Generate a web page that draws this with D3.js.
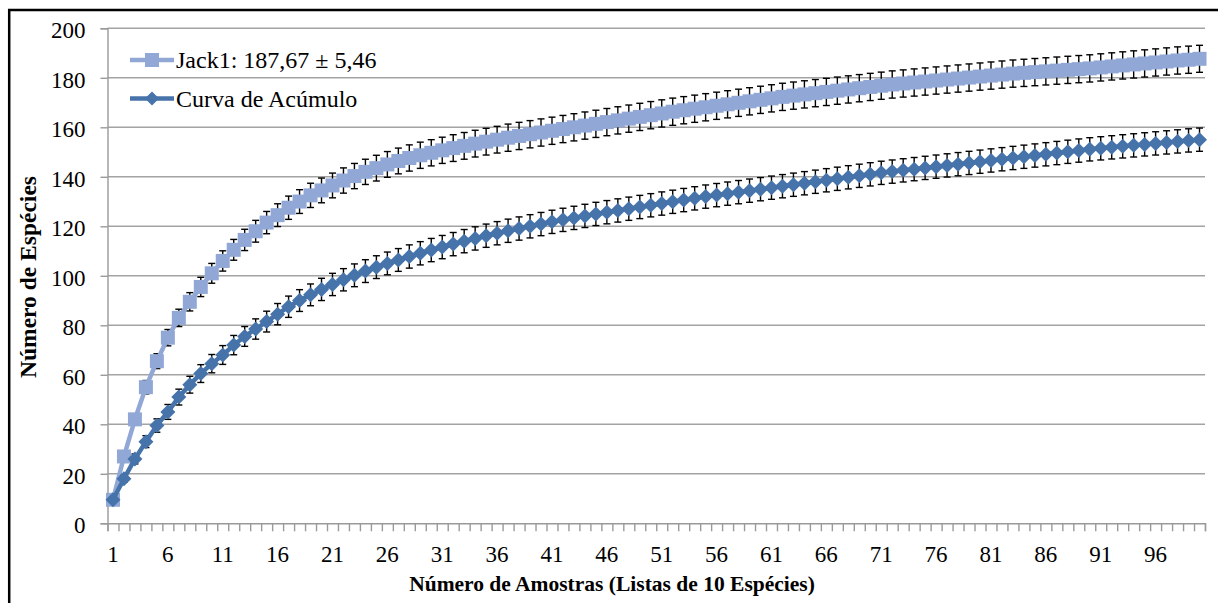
<!DOCTYPE html>
<html>
<head>
<meta charset="utf-8">
<script src="https://cdn.jsdelivr.net/npm/d3@7"></script>
<style>
  html, body { margin: 0; padding: 0; background: #fff; }
  text { font-family: 'Liberation Serif', 'Times New Roman', serif; fill: #000; }
</style>
</head>
<body>
<div id="chart"></div>
<script>
// amostras 1..100
const amostras = d3.range(1, 101);
const xTickLabels = ['1', '6', '11', '16', '21', '26', '31', '36', '41', '46',
    '51', '56', '61', '66', '71', '76', '81', '86', '91', '96'];
const yTicks = [0, 20, 40, 60, 80, 100, 120, 140, 160, 180, 200];

const jack1 = [
    9.5, 27, 42, 55, 65.5, 75, 83, 89.5, 95.5, 101,
    106, 110.5, 114.5, 118, 121.5, 124.5, 127.5, 130, 132.5, 134.5,
    136.5, 138.5, 140.3, 142, 143.5, 145, 146.4, 147.6, 148.7, 149.7,
    150.7, 151.6, 152.5, 153.4, 154.2, 155, 155.8, 156.5, 157.2, 157.9,
    158.6, 159.3, 160, 160.7, 161.4, 162.1, 162.8, 163.5, 164.2, 164.9,
    165.6, 166.3, 166.9, 167.5, 168.1, 168.7, 169.3, 169.9, 170.5, 171.1,
    171.7, 172.3, 172.8, 173.3, 173.8, 174.3, 174.8, 175.3, 175.8, 176.3,
    176.8, 177.3, 177.7, 178.1, 178.5, 178.9, 179.3, 179.7, 180.1, 180.5,
    180.9, 181.3, 181.7, 182, 182.3, 182.6, 182.9, 183.2, 183.5, 183.8,
    184.2, 184.6, 185, 185.4, 185.8, 186.2, 186.6, 187, 187.3, 187.67
];
const jack1Sd = [
    0, 1.5, 2.2, 2.7, 3, 3.3, 3.5, 3.7, 3.9, 4,
    4.1, 4.2, 4.3, 4.4, 4.5, 4.6, 4.7, 4.8, 4.9, 5,
    5, 5.1, 5.1, 5.1, 5.2, 5.2, 5.2, 5.3, 5.3, 5.3,
    5.3, 5.4, 5.4, 5.4, 5.4, 5.4, 5.5, 5.5, 5.5, 5.5,
    5.5, 5.5, 5.5, 5.5, 5.5, 5.5, 5.5, 5.5, 5.5, 5.5,
    5.5, 5.5, 5.5, 5.5, 5.5, 5.5, 5.5, 5.5, 5.5, 5.5,
    5.5, 5.5, 5.5, 5.5, 5.5, 5.5, 5.5, 5.5, 5.5, 5.5,
    5.5, 5.5, 5.5, 5.5, 5.5, 5.5, 5.5, 5.5, 5.5, 5.5,
    5.5, 5.5, 5.5, 5.5, 5.5, 5.5, 5.5, 5.5, 5.5, 5.5,
    5.5, 5.5, 5.5, 5.5, 5.5, 5.5, 5.5, 5.5, 5.5, 5.46
];
const acumulo = [
    9.5, 18, 26, 33, 39.5, 45, 51, 56, 60.5, 64.5,
    68, 72, 75.5, 78.5, 81.5, 84.5, 87.5, 90, 92.3, 94.5,
    96.5, 98.4, 100.2, 101.9, 103.5, 105, 106.4, 107.8, 109.1, 110.4,
    111.6, 112.8, 114, 115.1, 116.2, 117.2, 118.2, 119.1, 120, 120.9,
    121.8, 122.6, 123.4, 124.2, 125, 125.7, 126.4, 127.1, 127.8, 128.5,
    129.2, 129.9, 130.6, 131.3, 132, 132.6, 133.2, 133.8, 134.4, 135,
    135.6, 136.2, 136.8, 137.4, 138, 138.6, 139.2, 139.8, 140.4, 141,
    141.6, 142.1, 142.6, 143.1, 143.6, 144.1, 144.6, 145.1, 145.6, 146.1,
    146.6, 147.1, 147.6, 148.1, 148.6, 149.1, 149.6, 150.1, 150.6, 151.1,
    151.5, 151.9, 152.3, 152.7, 153.1, 153.5, 153.9, 154.3, 154.7, 155
];
const acumuloSd = [
    0, 1.4, 2, 2.4, 2.7, 3, 3.2, 3.4, 3.6, 3.7,
    3.8, 3.9, 4, 4.1, 4.2, 4.3, 4.3, 4.4, 4.4, 4.5,
    4.5, 4.5, 4.6, 4.6, 4.6, 4.6, 4.6, 4.7, 4.7, 4.7,
    4.7, 4.7, 4.7, 4.7, 4.7, 4.7, 4.7, 4.7, 4.7, 4.7,
    4.7, 4.7, 4.7, 4.7, 4.7, 4.7, 4.7, 4.7, 4.7, 4.7,
    4.7, 4.7, 4.7, 4.7, 4.7, 4.7, 4.7, 4.7, 4.7, 4.7,
    4.7, 4.7, 4.7, 4.7, 4.7, 4.7, 4.7, 4.7, 4.7, 4.7,
    4.7, 4.7, 4.7, 4.7, 4.7, 4.7, 4.7, 4.7, 4.7, 4.7,
    4.7, 4.7, 4.7, 4.7, 4.7, 4.7, 4.7, 4.7, 4.7, 4.7,
    4.7, 4.7, 4.7, 4.7, 4.7, 4.7, 4.7, 4.7, 4.7, 4.7
];

const series = [
    { name: 'Jack1: 187,67 \u00b1 5,46', values: jack1, sd: jack1Sd,
      color: '#91a8d6', marker: 'square', r: 7 },
    { name: 'Curva de Ac\u00famulo', values: acumulo, sd: acumuloSd,
      color: '#4673aa', marker: 'diamond', r: 7.5 }
];

const config = {
    width: 1218,
    height: 603,
    font: "'Liberation Serif', 'Times New Roman', serif",
    plot: { left: 107.5, right: 1205, top: 28.3, bottom: 523.3 }
};

const markerPath = (type, r) => type === 'square'
    ? `M${-r},${-r}H${r}V${r}H${-r}Z`
    : `M0,${-r}L${r},0L0,${r}L${-r},0Z`;

const svg = d3.select('#chart').append('svg')
    .attr('width', config.width)
    .attr('height', config.height)
    .attr('font-family', config.font);

// frame (cut by the right and bottom edges)
svg.append('rect')
    .attr('x', 9.2).attr('y', 10)
    .attr('width', 1240).attr('height', 640)
    .attr('fill', 'none').attr('stroke', '#000').attr('stroke-width', 2.5);

const x = d3.scaleBand()
    .domain(amostras)
    .range([config.plot.left, config.plot.right]);
const xEdge = d3.scaleLinear()
    .domain([0, amostras.length])
    .range([config.plot.left, config.plot.right]);
const y = d3.scaleLinear()
    .domain([0, 200])
    .range([config.plot.bottom, config.plot.top]);
const cx = d => x(d) + x.bandwidth() / 2;

// gridlines
svg.append('g')
    .selectAll('line')
    .data(yTicks.slice(1))
    .enter().append('line')
        .attr('x1', config.plot.left).attr('x2', config.plot.right)
        .attr('y1', d => y(d)).attr('y2', d => y(d))
        .attr('stroke', '#a3a3a3').attr('stroke-width', 1.4);

// y axis
const yAxis = svg.append('g')
    .attr('transform', `translate(${config.plot.left},0)`)
    .call(d3.axisLeft(y).tickValues(yTicks).tickSize(7).tickPadding(15));
yAxis.attr('font-family', config.font);
yAxis.selectAll('line, path').attr('stroke', '#9a9a9a').attr('stroke-width', 1.4);
yAxis.selectAll('text')
    .attr('font-size', 23)
    .attr('dy', '0.4em');

// x axis: tick marks between categories
const xAxis = svg.append('g')
    .attr('transform', `translate(0,${config.plot.bottom})`)
    .call(d3.axisBottom(xEdge).tickValues(d3.range(0, 101)).tickSize(8).tickFormat(''));
xAxis.selectAll('line, path').attr('stroke', '#9a9a9a').attr('stroke-width', 1.4);

svg.append('g')
    .selectAll('text')
    .data(xTickLabels)
    .enter().append('text')
        .attr('x', d => cx(+d))
        .attr('y', 562)
        .attr('text-anchor', 'middle')
        .attr('font-size', 23)
        .text(d => d);

// axis titles
svg.append('text')
    .attr('x', 612).attr('y', 591)
    .attr('text-anchor', 'middle')
    .attr('font-size', 21.5).attr('font-weight', 'bold')
    .text('N\u00famero de Amostras (Listas de 10 Esp\u00e9cies)');
svg.append('text')
    .attr('transform', 'translate(36,277) rotate(-90)')
    .attr('text-anchor', 'middle')
    .attr('font-size', 23.5).attr('font-weight', 'bold')
    .text('N\u00famero de Esp\u00e9cies');

// series: error bars under lines and markers
series.forEach(s => {
    const g = svg.append('g');
    const pts = s.values.map((v, i) => ({ k: amostras[i], v: v, sd: s.sd[i] }));

    const bars = g.append('g').attr('stroke', '#000').attr('stroke-width', 1.4);
    pts.filter(p => p.sd > 0).forEach(p => {
        const px = cx(p.k);
        bars.append('line')
            .attr('x1', px).attr('x2', px)
            .attr('y1', y(p.v + p.sd)).attr('y2', y(p.v - p.sd));
        [p.v + p.sd, p.v - p.sd].forEach(e => {
            bars.append('line')
                .attr('x1', px - 3.5).attr('x2', px + 3.5)
                .attr('y1', y(e)).attr('y2', y(e));
        });
    });

    g.append('path')
        .datum(pts)
        .attr('fill', 'none')
        .attr('stroke', s.color)
        .attr('stroke-width', 4.5)
        .attr('stroke-linejoin', 'round')
        .attr('d', d3.line().x(p => cx(p.k)).y(p => y(p.v)));

    g.selectAll('.mk')
        .data(pts)
        .enter().append('path')
            .attr('transform', p => `translate(${cx(p.k)},${y(p.v)})`)
            .attr('d', markerPath(s.marker, s.r))
            .attr('fill', s.color);
});

// legend
const legend = svg.append('g');
series.forEach((s, i) => {
    const ly = 60 + i * 38.5;
    legend.append('line')
        .attr('x1', 130).attr('x2', 174)
        .attr('y1', ly).attr('y2', ly)
        .attr('stroke', s.color).attr('stroke-width', 4.5);
    legend.append('path')
        .attr('transform', `translate(152,${ly})`)
        .attr('d', markerPath(s.marker, s.marker === 'square' ? 7 : 7))
        .attr('fill', s.color);
    legend.append('text')
        .attr('x', 176).attr('y', ly + 8)
        .attr('font-size', 24)
        .text(s.name);
});
</script>
</body>
</html>
